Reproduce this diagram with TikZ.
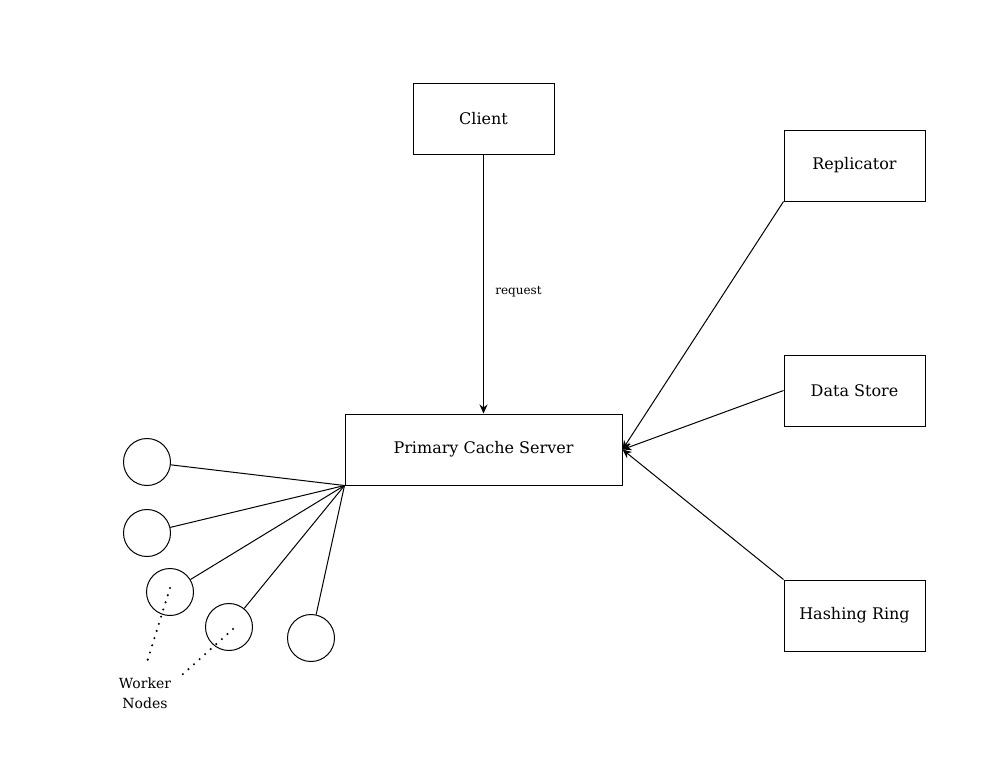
\documentclass[tikz,border=0pt]{standalone}
\usepackage{fontspec}
\setmainfont{DejaVu Serif}
\usetikzlibrary{arrows.meta, positioning}

\begin{document}
\begin{tikzpicture}[
        x=1pt, y=-1pt,
        node distance=150pt,
        box/.style={rectangle, draw, line width=1pt, minimum width=141pt, minimum height=71pt, font=\fontsize{16}{19}\selectfont},
        worker/.style={circle, draw, line width=1pt, minimum size=47pt, inner sep=0pt},
        arrow/.style={-{Stealth[length=9pt, width=8pt]}, line width=1pt},
        link/.style={line width=1pt},
        dots/.style={line width=2.3pt, line cap=round, dash pattern=on 0pt off 7.5pt}
    ]
        \useasboundingbox (0,0) rectangle (996,761);
        \node[box, minimum width=277pt] (server) at (483.5,449.5) {Primary Cache Server};
        \node[box, above=259pt of server.north, anchor=south] (client) {Client};
        \node[box] (store) at (854.5,390.5) {Data Store};
        \node[box, above=153pt of store] (repl) {Replicator};
        \node[box, below=153pt of store] (ring) {Hashing Ring};

        % incoming
        \draw[arrow] (client) -- node[pos=0.53, right=8pt, font=\fontsize{12}{14}\selectfont] {request} (server);
        \draw[arrow] (repl.south west) -- (server.east);
        \draw[arrow] (store.west) -- (server.east);
        \draw[arrow] (ring.north west) -- (server.east);

        % worker nodes
        \node[worker] (w1) at (147,462) {};
        \node[worker] (w2) at (147,533) {};
        \node[worker] (w3) at (170,592) {};
        \node[worker] (w4) at (229,627) {};
        \node[worker] (w5) at (311,638) {};
        \foreach \w in {w1,w2,w3,w4,w5}
            \draw[link] (server.south west) -- (\w);

        \node[align=center, font=\fontsize{14}{20}\selectfont] (label) at (145,693) {Worker\\Nodes};
        \coordinate (d3) at (170,588);
        \coordinate (d4) at (233,629);
        \draw[dots] (d3) -- (147,662);
        \draw[dots] (d4) -- (182,675);
    \end{tikzpicture}
\end{document}
